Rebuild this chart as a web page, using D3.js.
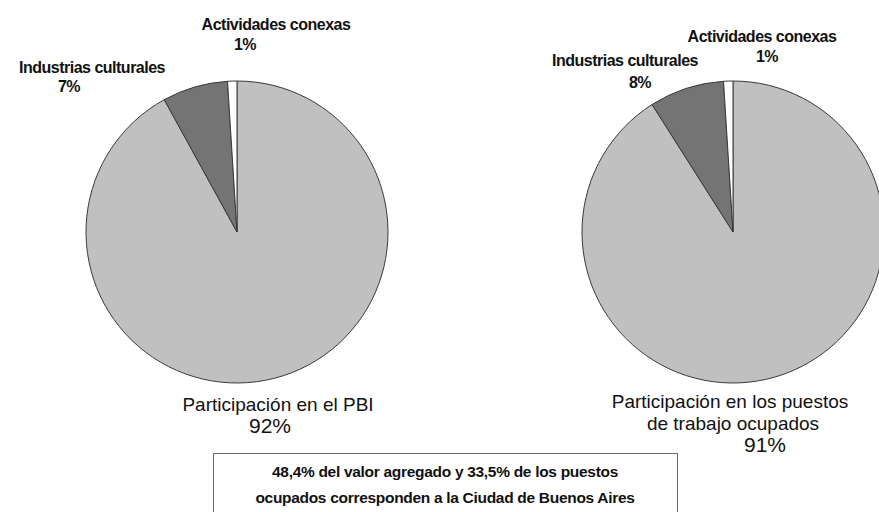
<!DOCTYPE html>
<meta charset="utf-8">
<script src="https://d3js.org/d3.v7.min.js"></script>
<style>
  body { margin: 0; background: #fff; }
  text { font-family: "Liberation Sans", Arial, sans-serif; fill: #111; }
</style>
<div id="chart"></div>
<script>
// data
var categories = ["Participación", "Industrias culturales", "Actividades conexas"];
var pbiValues = [92, 7, 1];
var empleoValues = [91, 8, 1];
var noteLines = [
  "48,4% del valor agregado y 33,5% de los puestos",
  "ocupados corresponden a la Ciudad de Buenos Aires"
];

var width = 879, height = 512, radius = 151;
var colors = ["#c0c0c0", "#747474", "#ffffff"];

var svg = d3.select("#chart").append("svg")
    .attr("width", width)
    .attr("height", height);

var pie = d3.pie().sort(null).value(function(d) { return d; });
var arc = d3.arc().innerRadius(0).outerRadius(radius);

// one pie + its labels
function drawPie(cx, cy, values, labels) {
  var g = svg.append("g").attr("transform", "translate(" + cx + "," + cy + ")");

  g.selectAll("path")
    .data(pie(values))
    .enter()
    .append("path")
      .attr("d", arc)
      .attr("fill", function(d, i) { return colors[i]; })
      .attr("stroke", "#3a3a3a")
      .attr("stroke-width", 1);

  labels.forEach(function(l) {
    g.append("text")
      .attr("x", l.dx)
      .attr("y", l.dy)
      .attr("text-anchor", "middle")
      .style("font-size", l.size + "px")
      .style("font-weight", l.bold ? "bold" : "normal")
      .style("letter-spacing", l.bold ? "-0.5px" : "0px")
      .text(l.text);
  });
}

drawPie(237, 232, pbiValues, [
  {text: categories[2], dx: 39, dy: -202, size: 16, bold: true},
  {text: pbiValues[2] + "%", dx: 8, dy: -182, size: 16, bold: true},
  {text: categories[1], dx: -145, dy: -159, size: 16, bold: true},
  {text: pbiValues[1] + "%", dx: -168, dy: -140, size: 16, bold: true},
  {text: categories[0] + " en el PBI", dx: 41, dy: 179, size: 19},
  {text: pbiValues[0] + "%", dx: 33, dy: 201, size: 21}
]);

drawPie(733, 232, empleoValues, [
  {text: categories[2], dx: 29, dy: -190, size: 16, bold: true},
  {text: empleoValues[2] + "%", dx: 34, dy: -170, size: 16, bold: true},
  {text: categories[1], dx: -108, dy: -166, size: 16, bold: true},
  {text: empleoValues[1] + "%", dx: -93, dy: -144, size: 16, bold: true},
  {text: categories[0] + " en los puestos", dx: -3, dy: 176, size: 19},
  {text: "de trabajo ocupados", dx: 0, dy: 198, size: 19},
  {text: empleoValues[0] + "%", dx: 32, dy: 220, size: 21}
]);

// note box at the bottom
svg.append("rect")
  .attr("x", 213.5)
  .attr("y", 453.5)
  .attr("width", 464)
  .attr("height", 80)
  .attr("fill", "#fff")
  .attr("stroke", "#6a6a6a")
  .attr("stroke-width", 1);

svg.selectAll(".note")
  .data(noteLines)
  .enter()
  .append("text")
    .attr("class", "note")
    .attr("x", 445)
    .attr("y", function(d, i) { return 477 + i * 26; })
    .attr("text-anchor", "middle")
    .style("font-size", "15.5px")
    .style("font-weight", "bold")
    .style("letter-spacing", "-0.3px")
    .text(function(d) { return d; });
</script>
